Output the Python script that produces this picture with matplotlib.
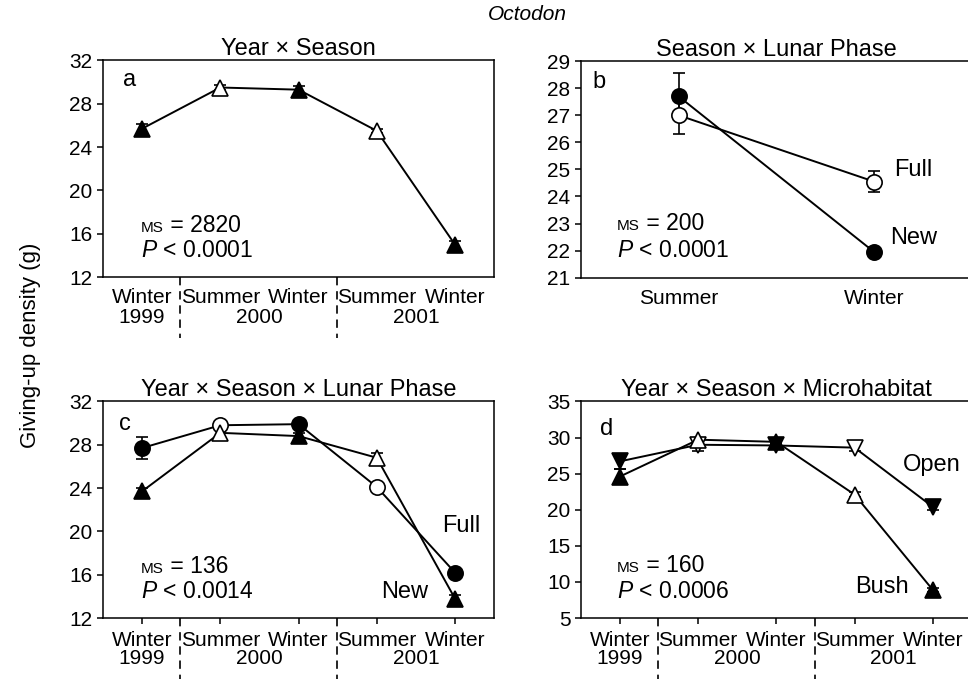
import numpy as np
import matplotlib
matplotlib.use("Agg")
import matplotlib.pyplot as plt
import matplotlib.transforms as mtransforms

plt.rcParams['font.family'] = ['Liberation Sans', 'DejaVu Sans']
plt.rcParams['mathtext.fontset'] = 'custom'
plt.rcParams['mathtext.it'] = 'Liberation Sans:italic'
plt.rcParams['mathtext.rm'] = 'Liberation Sans'

# categories
seasons = ['Winter', 'Summer', 'Winter', 'Summer', 'Winter']
years = ['1999', '2000', '2001']
year_pos = [0, 1.5, 3.5]
year_breaks = [0.49, 2.49]
lunar_seasons = ['Summer', 'Winter']

# a: Year x Season
a_vals = [25.7, 29.5, 29.3, 25.5, 15.0]
a_err = [0.4, 0.2, 0.3, 0.2, 0.3]

# b: Season x Lunar Phase
b_full = [27.0, 24.55]
b_full_err = [0.7, 0.4]
b_new = [27.7, 21.95]
b_new_err = [0.85, 0.2]

# c: Year x Season x Lunar Phase
c_full = [27.7, 29.8, 29.9, 24.1, 16.2]
c_full_err = [1.0, 0.3, 0.3, 0.3, 0.3]
c_new = [23.7, 29.1, 28.8, 26.8, 13.8]
c_new_err = [0.3, 0.3, 0.3, 0.4, 0.3]

# d: Year x Season x Microhabitat
d_open = [26.7, 29.0, 28.9, 28.6, 20.4]
d_open_err = [1.0, 0.9, 0.3, 0.4, 0.5]
d_bush = [24.6, 29.7, 29.4, 22.1, 8.9]
d_bush_err = [1.1, 0.3, 0.3, 0.3, 0.3]

fig = plt.figure(figsize=(9.68, 6.79), dpi=100)

W = 0.404
H = 0.319
ax_a = fig.add_axes([0.1064, 0.592, W, H])
ax_b = fig.add_axes([0.600, 0.591, W, H])
ax_c = fig.add_axes([0.1064, 0.0898, W, H])
ax_d = fig.add_axes([0.600, 0.0898, W, H])

LW = 1.4
FS = 15      # tick labels
FT = 17      # titles
FL = 16.5    # annotations

ms_texts = []


def series(ax, x, y, err, marker, filled):
    ms = 11 if marker == 'o' else 12
    ax.plot(x, y, color='black', lw=LW, zorder=2)
    for xi, yi, ei, f in zip(x, y, err, filled):
        ax.errorbar(xi, yi, yerr=ei, fmt=marker, ms=ms, mec='black', mew=1.2,
                    mfc='black' if f else 'white', ecolor='black', elinewidth=1.2,
                    capsize=4, capthick=1.2, zorder=3)


def stats(ax, x, y1, y2, ms, p):
    t = ax.text(x, y1, 'MS', fontsize=11, transform=ax.transAxes, va='baseline')
    ms_texts.append((ax, t, y1, ' = ' + ms))
    ax.text(x, y2, r'$P$ < ' + p, fontsize=FL, transform=ax.transAxes, va='baseline')


def year_axis(ax, ticklen):
    pos = np.arange(len(seasons))
    ax.set_xticks(pos, seasons)
    ax.set_xlim(-0.5, 4.5)
    ax.tick_params(axis='x', length=ticklen, pad=8 - ticklen * 0.7, labelsize=FS)
    for yp, yl in zip(year_pos, years):
        ax.annotate(yl, xy=(yp, 0), xycoords=('data', 'axes fraction'),
                    xytext=(0, -22), textcoords='offset points', ha='center',
                    va='top', fontsize=FS, annotation_clip=False)
    tr = mtransforms.blended_transform_factory(ax.transData, ax.transAxes)
    for xb in year_breaks:
        ax.plot([xb, xb], [0, -0.28], transform=tr, clip_on=False, color='black',
                lw=1.2, ls=(0, (5, 3.5)))


for ax in (ax_a, ax_b, ax_c, ax_d):
    for s in ax.spines.values():
        s.set_linewidth(1.1)
    ax.tick_params(axis='y', labelsize=FS, length=4, width=1.1)
    ax.tick_params(axis='x', width=1.1)

filled = [s == 'Winter' for s in seasons]
x5 = np.arange(len(seasons))

# a
series(ax_a, x5, a_vals, a_err, '^', filled)
ax_a.set_ylim(12, 32)
ax_a.set_yticks(np.arange(12, 33, 4))
year_axis(ax_a, 0)
ax_a.set_title('Year \u00d7 Season', fontsize=FT, pad=4)
ax_a.text(0.05, 0.88, 'a', fontsize=FT, transform=ax_a.transAxes)
stats(ax_a, 0.097, 0.21, 0.092, '2820', '0.0001')

# b
xb2 = np.arange(len(lunar_seasons))
series(ax_b, xb2, b_full, b_full_err, 'o', [False, False])
series(ax_b, xb2, b_new, b_new_err, 'o', [True, True])
ax_b.set_ylim(21, 29)
ax_b.set_yticks(np.arange(21, 30, 1))
ax_b.set_xlim(-0.5, 1.5)
ax_b.set_xticks(xb2, lunar_seasons)
ax_b.tick_params(axis='x', length=0, pad=8, labelsize=FS)
ax_b.set_title('Season \u00d7 Lunar Phase', fontsize=FT, pad=4)
ax_b.text(0.03, 0.875, 'b', fontsize=FT, transform=ax_b.transAxes)
ax_b.text(1.10, 24.74, 'Full', fontsize=FL + 0.5)
ax_b.text(1.08, 22.26, 'New', fontsize=FL + 0.5)
stats(ax_b, 0.092, 0.218, 0.097, '200', '0.0001')

# c
series(ax_c, x5, c_full, c_full_err, 'o', filled)
series(ax_c, x5, c_new, c_new_err, '^', filled)
ax_c.set_ylim(12, 32)
ax_c.set_yticks(np.arange(12, 33, 4))
year_axis(ax_c, 4)
ax_c.set_title('Year \u00d7 Season \u00d7 Lunar Phase', fontsize=FT, pad=4)
ax_c.text(0.04, 0.87, 'c', fontsize=FT, transform=ax_c.transAxes)
ax_c.text(3.83, 19.96, 'Full', fontsize=FL + 0.5)
ax_c.text(3.05, 13.85, 'New', fontsize=FL + 0.5)
stats(ax_c, 0.097, 0.21, 0.093, '136', '0.0014')

# d
series(ax_d, x5, d_open, d_open_err, 'v', filled)
series(ax_d, x5, d_bush, d_bush_err, '^', filled)
ax_d.set_ylim(5, 35)
ax_d.set_yticks(np.arange(5, 36, 5))
year_axis(ax_d, 4)
ax_d.set_title('Year \u00d7 Season \u00d7 Microhabitat', fontsize=FT, pad=4)
ax_d.text(0.05, 0.847, 'd', fontsize=FT, transform=ax_d.transAxes)
ax_d.text(3.62, 25.3, 'Open', fontsize=FL + 0.5)
ax_d.text(3.01, 8.5, 'Bush', fontsize=FL + 0.5)
stats(ax_d, 0.092, 0.213, 0.093, '160', '0.0006')

fig.text(0.545, 0.979, 'Octodon', fontsize=FS, style='italic', ha='center', va='center')
fig.text(0.031, 0.492, 'Giving-up density (g)', fontsize=16, rotation=90,
         ha='center', va='center')

# put "= value" right after the small-caps "MS", on the same baseline
fig.canvas.draw()
for ax, t, y1, rest in ms_texts:
    x1 = t.get_window_extent().x1
    xa = ax.transAxes.inverted().transform((x1, 0))[0]
    ax.text(xa, y1, rest, fontsize=FL, transform=ax.transAxes, va='baseline')

fig.savefig('out.png', dpi=100)
